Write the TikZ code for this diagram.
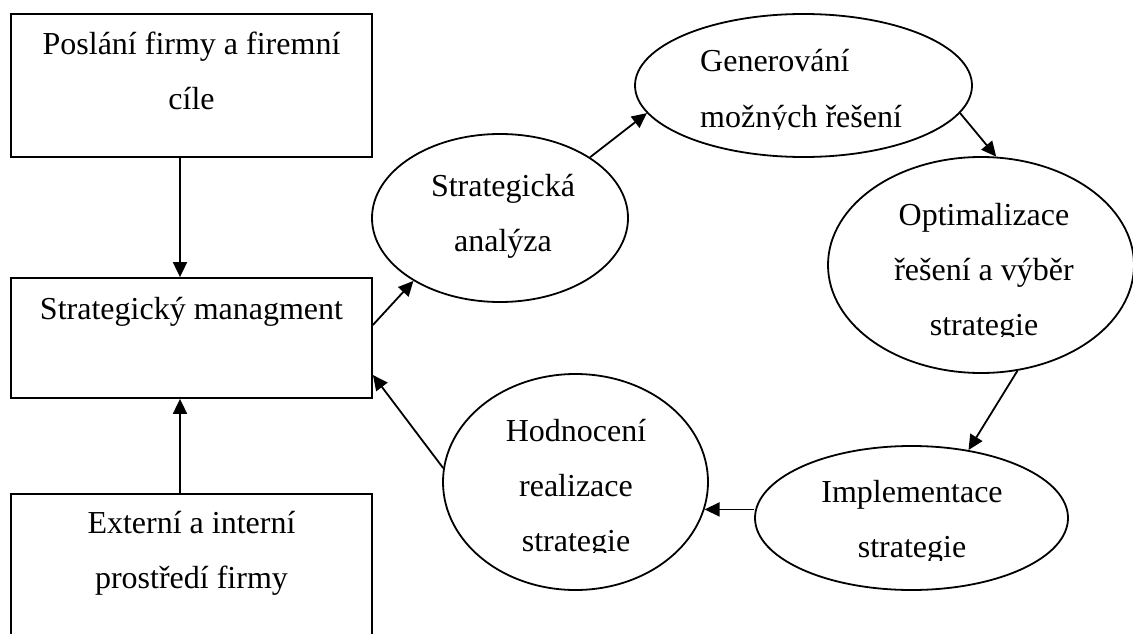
\documentclass[tikz,border=0pt]{standalone}
\usepackage{fontspec}
\setmainfont{Liberation Serif}
\usetikzlibrary{arrows.meta,shapes.geometric}
\begin{document}
\begin{tikzpicture}[x=1pt,y=-1pt,
  frame/.style={draw, line width=1.8pt, rectangle, inner sep=0pt},
  oval/.style={draw, line width=1.8pt, ellipse, inner sep=0pt},
  txt/.style={font=\fontsize{32}{55}\selectfont, align=center, inner sep=0pt, anchor=base},
  flow/.style={line width=1.8pt, -{Triangle[length=15pt,width=14pt]}}]
\useasboundingbox (0,0) rectangle (1133,634);
\clip (0,0) rectangle (1133,634);

% left column: boxes
\node[frame, minimum width=361pt, minimum height=143pt] (mise)  at (191.5,85.5) {};
\node[frame, minimum width=361pt, minimum height=120pt] (mgmt)  at (191.5,338) {};
\node[frame, minimum width=361pt, minimum height=200pt] (okoli) at (191.5,594) {};

% text anchors sit on the baseline of the last line
\node[txt] (tmise)  at (191.5,110) {Poslání firmy a firemní\\cíle};
\node[txt] (tmgmt)  at (191.5,319) {Strategický managment};
\node[txt] (tokoli) at (191.5,588) {Externí a interní\\prostředí firmy};

% strategy cycle
\node[oval, minimum width=256pt, minimum height=168pt] (anal) at (500,218) {};
\node[oval, minimum width=337pt, minimum height=143pt] (gen)  at (803.5,85.5) {};
\node[oval, minimum width=306pt, minimum height=216pt] (opt)  at (981,265) {};
\node[oval, minimum width=313pt, minimum height=144pt] (impl) at (911.5,518) {};
\node[oval, minimum width=265pt, minimum height=216pt] (hod)  at (575.5,482) {};

\node[txt] (tanal) at (503,251) {Strategická\\analýza};
\begin{scope}
  \clip (640,20) rectangle (960,129);
  \node[txt, align=left, anchor=base west] (tgen) at (700,127) {Generování\\možných řešení};
\end{scope}
\begin{scope}
  \clip (840,160) rectangle (1125,336);
  \node[txt] (topt) at (984,335) {Optimalizace\\řešení a výběr\\strategie};
\end{scope}
\begin{scope}
  \clip (760,450) rectangle (1060,560);
  \node[txt] (timpl) at (912,557) {Implementace\\strategie};
\end{scope}
\begin{scope}
  \clip (450,380) rectangle (700,552);
  \node[txt] (thod) at (576,551) {Hodnocení\\realizace\\strategie};
\end{scope}

% connectors
\draw[flow] ([xshift=-11.5pt]mise.south) -- ([xshift=-11.5pt]mgmt.north);
\draw[flow] ([xshift=-11.5pt]okoli.north) -- ([xshift=-11.5pt]mgmt.south);
\draw[flow] ([yshift=13pt]mgmt.east) -- (anal.216.6);
\draw[flow] (anal.34.1) -- (gen.190.5);
\draw[flow] (gen.350.3) -- (opt.82.6);
\draw[flow] (opt.289.7) -- (impl.50.4);
\draw[flow] (impl.west |- hod.348) -- (hod.348);
\draw[flow] (hod.174.8) -- ([yshift=-37pt]mgmt.east);
\end{tikzpicture}
\end{document}
